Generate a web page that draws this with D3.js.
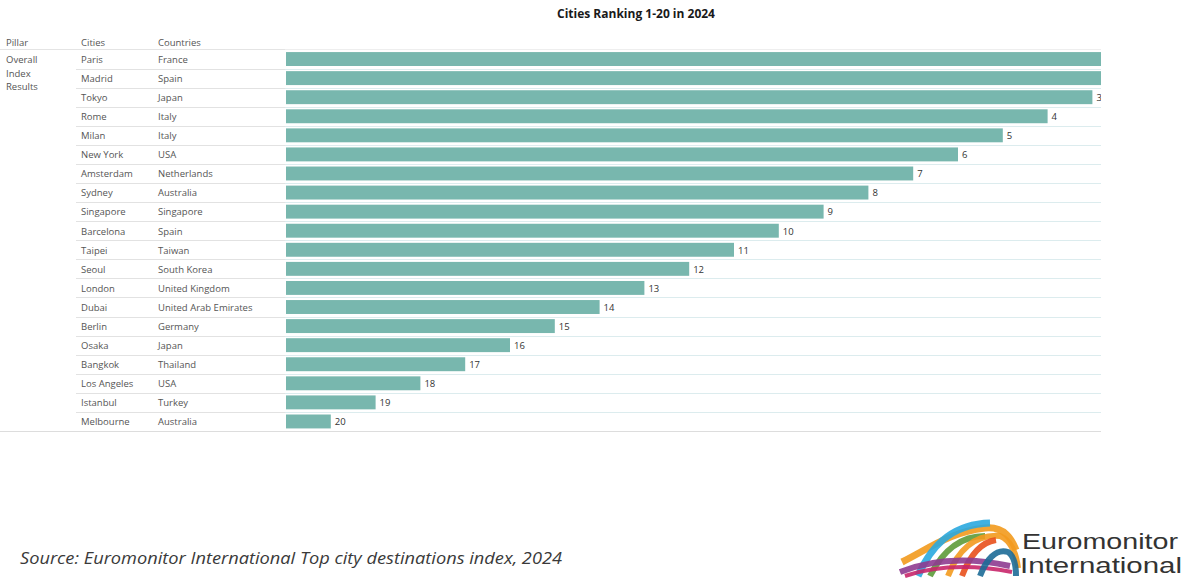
<!DOCTYPE html>
<html><head><meta charset="utf-8">
<script src="https://cdn.jsdelivr.net/npm/d3@7"></script>
<style>
html,body{margin:0;padding:0;background:#fff;}
svg{display:block;}
</style></head>
<body>
<script>
const title = "Cities Ranking 1-20 in 2024";
const headers = ["Pillar", "Cities", "Countries"];
const pillar = ["Overall", "Index", "Results"];
const cities = ["Paris","Madrid","Tokyo","Rome","Milan","New York","Amsterdam","Sydney","Singapore","Barcelona","Taipei","Seoul","London","Dubai","Berlin","Osaka","Bangkok","Los Angeles","Istanbul","Melbourne"];
const countries = ["France","Spain","Japan","Italy","Italy","USA","Netherlands","Australia","Singapore","Spain","Taiwan","South Korea","United Kingdom","United Arab Emirates","Germany","Japan","Thailand","USA","Turkey","Australia"];
const ranks = [1,2,3,4,5,6,7,8,9,10,11,12,13,14,15,16,17,18,19,20];
const barValues = [20,19,18,17,16,15,14,13,12,11,10,9,8,7,6,5,4,3,2,1];
const source = "Source: Euromonitor International Top city destinations index, 2024";

const W = 1185, H = 578;
const svg = d3.select("body").append("svg").attr("width", W).attr("height", H);
const font = "'Open Sans', 'Noto Sans', sans-serif";

svg.append("text").attr("x", 636).attr("y", 18).attr("text-anchor","middle")
  .attr("font-family", font).attr("font-weight", 700).attr("font-size", 12).attr("fill","#1a1a1a")
  .text(title);

const y = d3.scaleBand().domain(cities).range([49.5, 431]).paddingInner(0.27).paddingOuter(0.135);
const step = y.step();
const x = d3.scaleLinear().domain([0, 20]).range([286, 286 + 896]);
const clipRight = 1101;

svg.append("defs").append("clipPath").attr("id","clip")
  .append("rect").attr("x",286).attr("y",40).attr("width", clipRight-286).attr("height",400);

// headers
const hx = [6, 81, 158];
headers.forEach((h,i)=>{
  svg.append("text").attr("x",hx[i]).attr("y",46).attr("font-family",font).attr("font-size",9.5)
    .attr("fill","#555").text(h);
});
svg.append("line").attr("x1",0).attr("x2",285).attr("y1",49.5).attr("y2",49.5)
  .attr("stroke","#e4e4e4").attr("stroke-width",1);
svg.append("line").attr("x1",285).attr("x2",clipRight).attr("y1",49.5).attr("y2",49.5)
  .attr("stroke","#eeeeee").attr("stroke-width",1);

pillar.forEach((p,i)=>{
  svg.append("text").attr("x",6).attr("y",63+i*13.5).attr("font-family",font).attr("font-size",9.5)
    .attr("fill","#555").text(p);
});

// row separators
const rowsG = svg.append("g");
cities.forEach((c,i)=>{
  if (i === cities.length-1) return;
  const yy = Math.round(y(c) - y.step()*y.paddingInner()/2 + step) + 0.5;
  rowsG.append("line").attr("x1",76).attr("x2",285).attr("y1",yy).attr("y2",yy)
    .attr("stroke","#e2e2e2");
  rowsG.append("line").attr("x1",285).attr("x2",clipRight).attr("y1",yy).attr("y2",yy)
    .attr("stroke","#dcecee");
});
svg.append("line").attr("x1",0).attr("x2",clipRight).attr("y1",431.5).attr("y2",431.5)
  .attr("stroke","#dddddd");

// table text
const tg = svg.append("g").attr("font-family",font).attr("font-size",9.5).attr("fill","#555");
tg.selectAll(".city").data(cities).join("text").attr("x",81)
  .attr("y",d=>y(d)+y.bandwidth()/2+0.5).attr("dy","0.35em").text(d=>d);
tg.selectAll(".ctry").data(countries).join("text").attr("x",158)
  .attr("y",(d,i)=>y(cities[i])+y.bandwidth()/2+0.5).attr("dy","0.35em").text(d=>d);

// bars
const bg = svg.append("g").attr("clip-path","url(#clip)");
bg.selectAll("rect").data(barValues).join("rect")
  .attr("x", x(0)).attr("y",(d,i)=>y(cities[i]))
  .attr("width", d=>x(d)-x(0)).attr("height", y.bandwidth())
  .attr("fill","#78b7ae");
const labelData = barValues.map((v,i)=>({v, i})).filter(d => x(d.v) + 4 < clipRight);
bg.selectAll("text").data(labelData).join("text")
  .attr("x", d=>x(d.v)+4).attr("y",d=>y(cities[d.i])+y.bandwidth()/2+0.5).attr("dy","0.35em")
  .attr("font-family",font).attr("font-size",9.5).attr("fill","#333")
  .text(d=>ranks[d.i]);

// source
svg.append("text").attr("x",20).attr("y",564).attr("font-family","'Open Sans', sans-serif")
  .attr("font-style","italic").attr("font-size",16).attr("fill","#3a3a3a")
  .attr("textLength",542).attr("lengthAdjust","spacingAndGlyphs").text(source);

// logo
const lg = svg.append("g");
const arcs = [
  {d:"M902,562 C930,548 950,532 985,528 C1005,526 1012,540 1016,550", c:"#f29a1d", w:7},
  {d:"M918,576 C930,548 950,524 990,523", c:"#2aa9df", w:7},
  {d:"M930,576 C942,552 960,536 985,536", c:"#5d9b3a", w:6},
  {d:"M948,576 C958,550 975,534 1000,536 C1010,540 1016,552 1018,568", c:"#f39a1e", w:6},
  {d:"M962,576 C970,555 982,542 996,540", c:"#e8501c", w:6},
  {d:"M900,572 C930,560 965,556 1010,566", c:"#8e3b90", w:6},
  {d:"M905,576 C935,566 970,564 1012,572", c:"#c8266a", w:4},
  {d:"M980,576 C986,560 996,548 1008,552 C1014,556 1016,566 1016,576", c:"#1d6b97", w:6}
];
arcs.forEach(a=>{
  lg.append("path").attr("d",a.d).attr("fill","none").attr("stroke",a.c)
    .attr("stroke-width",a.w).attr("opacity",0.9);
});
svg.append("text").attr("x",1022).attr("y",549).attr("font-family","'Liberation Sans', Arial, sans-serif")
  .attr("font-size",22).attr("fill","#333").attr("textLength",156).attr("lengthAdjust","spacingAndGlyphs").text("Euromonitor");
svg.append("text").attr("x",1020).attr("y",573).attr("font-family","'Liberation Sans', Arial, sans-serif")
  .attr("font-size",22).attr("fill","#333").attr("textLength",162).attr("lengthAdjust","spacingAndGlyphs").text("International");
</script>
</body></html>
